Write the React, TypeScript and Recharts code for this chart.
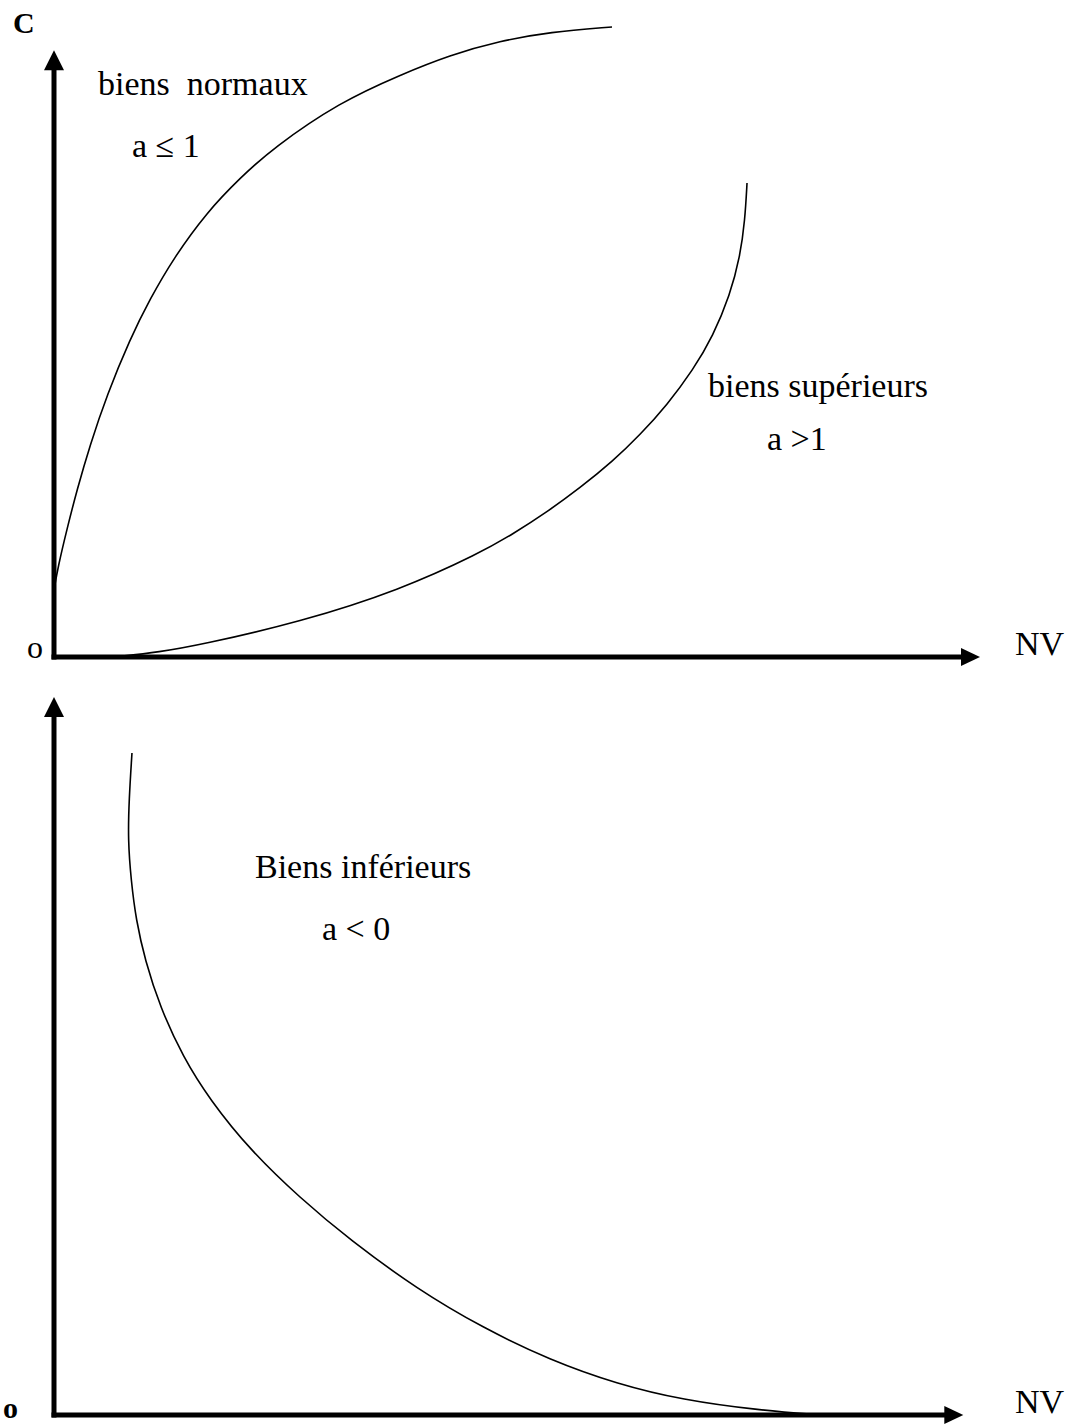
import React from 'react'
import { LineChart, Line, XAxis, YAxis, ReferenceLine, ReferenceDot } from 'recharts'

// NV on x (0..100), C on y (0..100)
const normalGoods = [
  { nv: 0, c: 10.47 },
  { nv: 0.43, c: 14.06 },
  { nv: 1.4, c: 20.0 },
  { nv: 2.48, c: 26.09 },
  { nv: 3.89, c: 33.13 },
  { nv: 5.72, c: 40.94 },
  { nv: 8.21, c: 49.69 },
  { nv: 10.37, c: 55.94 },
  { nv: 12.85, c: 62.19 },
  { nv: 16.52, c: 69.53 },
  { nv: 20.09, c: 74.84 },
  { nv: 23.65, c: 79.53 },
  { nv: 30.89, c: 86.72 },
  { nv: 37.37, c: 90.94 },
  { nv: 42.76, c: 94.06 },
  { nv: 48.16, c: 96.25 },
  { nv: 53.56, c: 97.66 },
  { nv: 60.26, c: 98.44 },
]

const superiorGoods = [
  { nv: 6.59, c: 0 },
  { nv: 11.45, c: 0.78 },
  { nv: 15.77, c: 1.88 },
  { nv: 26.57, c: 5.47 },
  { nv: 37.37, c: 10.47 },
  { nv: 46.0, c: 16.25 },
  { nv: 49.57, c: 19.22 },
  { nv: 53.24, c: 22.66 },
  { nv: 56.8, c: 26.41 },
  { nv: 60.37, c: 30.63 },
  { nv: 63.28, c: 34.69 },
  { nv: 66.2, c: 39.38 },
  { nv: 69.01, c: 44.84 },
  { nv: 71.17, c: 50.16 },
  { nv: 73.0, c: 56.56 },
  { nv: 74.08, c: 62.5 },
  { nv: 74.62, c: 68.28 },
  { nv: 74.84, c: 74.06 },
]

const inferiorGoods = [
  { nv: 8.42, c: 92.2 },
  { nv: 8.1, c: 85.65 },
  { nv: 7.99, c: 80.08 },
  { nv: 8.32, c: 74.51 },
  { nv: 8.86, c: 68.94 },
  { nv: 9.83, c: 63.37 },
  { nv: 11.45, c: 56.82 },
  { nv: 13.93, c: 49.86 },
  { nv: 16.85, c: 43.87 },
  { nv: 21.17, c: 36.91 },
  { nv: 26.57, c: 30.22 },
  { nv: 31.97, c: 24.37 },
  { nv: 39.2, c: 17.55 },
  { nv: 46.33, c: 12.12 },
  { nv: 53.56, c: 7.66 },
  { nv: 60.8, c: 4.32 },
  { nv: 67.93, c: 2.09 },
  { nv: 75.92, c: 0.7 },
  { nv: 82.72, c: 0 },
]

const serif = '"Liberation Serif", "Times New Roman", serif'
const axisWidth = 5

const ArrowRight = (p: any) => (
  <polygon points={`${p.cx},${p.cy} ${p.cx - 19},${p.cy - 9} ${p.cx - 19},${p.cy + 9}`} fill="#000" />
)
const ArrowUp = (p: any) => (
  <polygon points={`${p.cx},${p.cy} ${p.cx - 10},${p.cy + 20} ${p.cx + 10},${p.cy + 20}`} fill="#000" />
)

const Panel = ({
  height,
  margin,
  arrowX,
  arrowY,
  children,
}: {
  height: number
  margin: { top: number; right: number; bottom: number; left: number }
  arrowX: number
  arrowY: number
  children: React.ReactNode
}) => (
  <LineChart width={1078} height={height} margin={margin}>
    <XAxis dataKey="nv" type="number" domain={[0, 100]} hide />
    <YAxis dataKey="c" type="number" domain={[0, 100]} hide />
    <ReferenceLine
      segment={[{ x: 0, y: 0 }, { x: arrowX - 1.5, y: 0 }]}
      stroke="#000"
      strokeWidth={axisWidth}
      strokeLinecap="square"
    />
    <ReferenceLine
      segment={[{ x: 0, y: 0 }, { x: 0, y: arrowY - 2 }]}
      stroke="#000"
      strokeWidth={axisWidth}
      strokeLinecap="square"
    />
    <ReferenceDot x={arrowX} y={0} r={0} shape={ArrowRight} />
    <ReferenceDot x={0} y={arrowY} r={0} shape={ArrowUp} />
    {children}
  </LineChart>
)

export default function App() {
  return (
    <div style={{ position: 'absolute', left: 0, top: 0, width: 1078, height: 1424, background: '#fff' }}>
      <div style={{ position: 'absolute', left: 0, top: 0 }}>
        <Panel height={700} margin={{ top: 17, right: 98, bottom: 43, left: 54 }} arrowX={100} arrowY={94.8}>
          <Line data={normalGoods} dataKey="c" type="basis" stroke="#000" strokeWidth={1.6} dot={false} activeDot={false} isAnimationActive={false} />
          <Line data={superiorGoods} dataKey="c" type="basis" stroke="#000" strokeWidth={1.6} dot={false} activeDot={false} isAnimationActive={false} />
        </Panel>
      </div>
      <div style={{ position: 'absolute', left: 0, top: 680 }}>
        <Panel height={744} margin={{ top: 17, right: 98, bottom: 9, left: 54 }} arrowX={98.2} arrowY={100}>
          <Line data={inferiorGoods} dataKey="c" type="basis" stroke="#000" strokeWidth={1.6} dot={false} activeDot={false} isAnimationActive={false} />
        </Panel>
      </div>
      <svg
        width={1078}
        height={1424}
        style={{ position: 'absolute', left: 0, top: 0, pointerEvents: 'none' }}
        fontFamily={serif}
        fontSize={34}
        fill="#000"
      >
        <text x={13} y={33} fontWeight="bold" fontSize={30}>C</text>
        <text x={98} y={95} style={{ whiteSpace: 'pre' }}>biens  normaux</text>
        <text x={132} y={157}>a ≤ 1</text>
        <text x={708} y={397}>biens supérieurs</text>
        <text x={767} y={450}>a &gt;1</text>
        <text x={27} y={658} fontSize={32}>o</text>
        <text x={1015} y={655}>NV</text>
        <text x={255} y={878}>Biens inférieurs</text>
        <text x={322} y={940}>a &lt; 0</text>
        <text x={3} y={1418} fontSize={30} fontWeight="bold">o</text>
        <text x={1015} y={1413}>NV</text>
      </svg>
    </div>
  )
}
